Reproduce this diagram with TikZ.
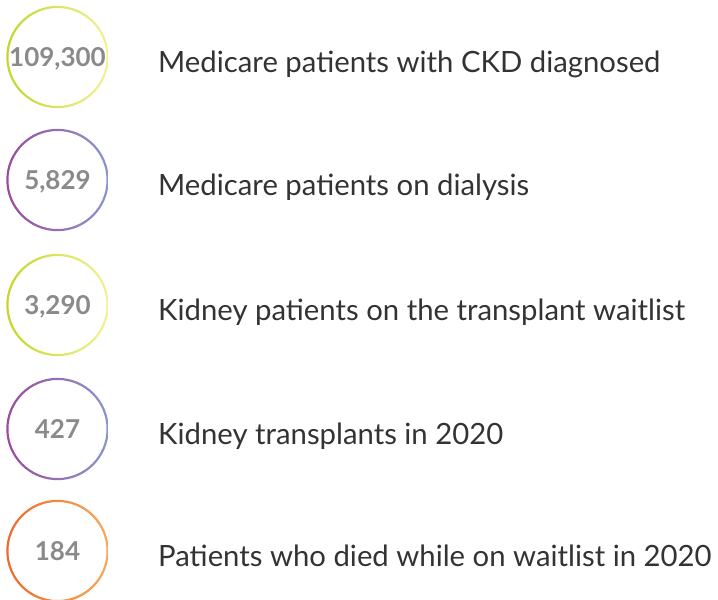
\documentclass[tikz,border=0pt]{standalone}
\usepackage{fontspec}
\setmainfont{Lato}
\usetikzlibrary{positioning}
\definecolor{limeA}{HTML}{C4D62C}
\definecolor{limeB}{HTML}{F2F29A}
\definecolor{plumA}{HTML}{9A4C9E}
\definecolor{plumB}{HTML}{8C96CA}
\definecolor{orngA}{HTML}{EE6A2E}
\definecolor{orngB}{HTML}{F8AA5A}
\definecolor{numgray}{HTML}{8A8A8C}
\definecolor{txtgray}{HTML}{333333}
\tikzset{
  num/.style={anchor=base, text=numgray, font=\fontsize{26}{26}\selectfont\bfseries, inner sep=0pt},
  desc/.style={anchor=base west, text=txtgray, font=\fontsize{29.3}{29.3}\selectfont, inner sep=0pt},
  lime/.style={left color=limeA, right color=limeB, even odd rule},
  plum/.style={left color=plumA, right color=plumB, even odd rule},
  orng/.style={left color=orngA, right color=orngB, even odd rule}
}
\begin{document}
\begin{tikzpicture}[x=1pt,y=1pt]
    \useasboundingbox (0,0) rectangle (718,-600);
    % circles
    \coordinate (c1) at (57.5,-57);
    \coordinate (c2) at (57.5,-180);
    \coordinate (c3) at (57.5,-305);
    \coordinate (c4) at (57.5,-429);
    \coordinate (c5) at (57.5,-551);
    \shade [lime] (c1) circle (51.2) (c1) circle (49);
    \shade [plum] (c2) circle (51.2) (c2) circle (49);
    \shade [lime] (c3) circle (51.2) (c3) circle (49);
    \shade [plum] (c4) circle (51.2) (c4) circle (49);
    \shade [orng] (c5) circle (51.2) (c5) circle (49);
    % numbers
    \node (n1) [num] at ([yshift=-9.5]c1) {109,300};
    \node (n2) [num] at ([yshift=-9.5]c2) {5,829};
    \node (n3) [num] at ([yshift=-9.5]c3) {3,290};
    \node (n4) [num] at ([yshift=-9.5]c4) {427};
    \node (n5) [num] at ([yshift=-9.5]c5) {184};
    % labels
    \node (t1) [desc] at (158,-72) {Medicare patients with CKD diagnosed};
    \node (t2) [desc] at (158,-195) {Medicare patients on dialysis};
    \node (t3) [desc] at (158,-320) {Kidney patients on the transplant waitlist};
    \node (t4) [desc] at (158,-444) {Kidney transplants in 2020};
    \node (t5) [desc] at (158,-566) {Patients who died while on waitlist in 2020};
\end{tikzpicture}
\end{document}
